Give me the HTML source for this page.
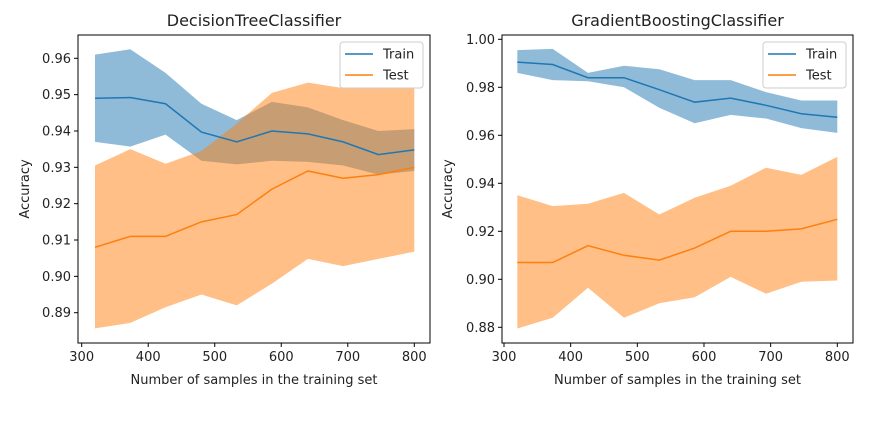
<!DOCTYPE html>
<html><head><meta charset="utf-8"><style>
body{margin:0;background:#fff;font-family:"DejaVu Sans","Liberation Sans",sans-serif}
svg text{font-family:"DejaVu Sans","Liberation Sans",sans-serif;fill:#222}
</style></head><body>
<svg id="chart" width="896" height="419" viewBox="0 0 896 419" xmlns="http://www.w3.org/2000/svg"></svg>
<script>
const xs = [320,373,426,480,533,586,640,693,746,800];
const xTicks = [300,400,500,600,700,800];
const leftTrainMean = [0.949,0.9492,0.9475,0.9397,0.937,0.940,0.9392,0.937,0.9335,0.9348];
const leftTrainUp = [0.961,0.9625,0.956,0.9475,0.943,0.948,0.9465,0.943,0.940,0.9405];
const leftTrainLo = [0.937,0.9357,0.939,0.9318,0.9308,0.9318,0.9315,0.9305,0.928,0.929];
const leftTestMean = [0.908,0.911,0.911,0.915,0.917,0.924,0.929,0.927,0.928,0.930];
const leftTestUp = [0.9305,0.935,0.931,0.9345,0.942,0.9505,0.9533,0.9518,0.952,0.952];
const leftTestLo = [0.8857,0.8872,0.8915,0.895,0.892,0.898,0.9048,0.9028,0.9048,0.9068];
const leftYTicks = [0.89,0.90,0.91,0.92,0.93,0.94,0.95,0.96];
const rightTrainMean = [0.9905,0.9895,0.984,0.984,0.979,0.9738,0.9755,0.9725,0.969,0.9675];
const rightTrainUp = [0.9955,0.996,0.986,0.989,0.9875,0.983,0.983,0.978,0.9745,0.9745];
const rightTrainLo = [0.986,0.983,0.9825,0.980,0.9715,0.965,0.9685,0.967,0.963,0.961];
const rightTestMean = [0.907,0.907,0.914,0.910,0.908,0.913,0.920,0.920,0.921,0.925];
const rightTestUp = [0.935,0.9305,0.9315,0.936,0.927,0.934,0.939,0.9465,0.9435,0.951];
const rightTestLo = [0.8795,0.884,0.8965,0.884,0.890,0.8925,0.901,0.894,0.899,0.8995];
const rightYTicks = [0.88,0.90,0.92,0.94,0.96,0.98,1.00];

const svg = document.getElementById('chart');
const NS = 'http://www.w3.org/2000/svg';
function mk(tag, attrs, parent){const e=document.createElementNS(NS,tag);for(const k in attrs)e.setAttribute(k,attrs[k]);(parent||svg).appendChild(e);return e;}

function panel(cfg){
  const g = mk('g',{});
  
  
  const X = v => cfg.x0 + (v-300)*(cfg.x1-cfg.x0)/500;
  const Y = v => cfg.y0 + (v-cfg.v0)*(cfg.y1-cfg.y0)/(cfg.v1-cfg.v0);
  function band(up, lo, color, nm){
    let d = 'M'+xs.map((x,i)=>X(x)+','+Y(up[i])).join('L');
    d += 'L'+xs.map((x,i)=>X(x)+','+Y(lo[i])).reverse().join('L')+'Z';
    const p = mk('path',{d:d,fill:color,'fill-opacity':0.5,stroke:'none'},g);
    
    
  }
  function line(m, color, nm){
    const p = mk('polyline',{points:xs.map((x,i)=>X(x)+','+Y(m[i])).join(' '),fill:'none',stroke:color,'stroke-width':1.5},g);
    
    
  }
  band(cfg.trUp,cfg.trLo,'#1f77b4','train-band');
  band(cfg.teUp,cfg.teLo,'#ff7f0e','test-band');
  line(cfg.trM,'#1f77b4','train-line');
  line(cfg.teM,'#ff7f0e','test-line');
  const fr = mk('rect',{x:cfg.bx0,y:35,width:cfg.bx1-cfg.bx0,height:308,fill:'none',stroke:'#000','stroke-width':1},g);
  
  
  xTicks.forEach(t=>{
    mk('line',{x1:X(t),x2:X(t),y1:343,y2:347,stroke:'#000'},g);
    const tx = mk('text',{x:X(t),y:361,'text-anchor':'middle','font-size':13},g);
    tx.textContent = t;
    
    
  });
  cfg.yTicks.forEach(t=>{
    mk('line',{x1:cfg.bx0-4,x2:cfg.bx0,y1:Y(t),y2:Y(t),stroke:'#000'},g);
    const tx = mk('text',{x:cfg.bx0-7,y:Y(t)+4.5,'text-anchor':'end','font-size':13},g);
    tx.textContent = t.toFixed(2);
    
    
  });
  const ti = mk('text',{x:(cfg.bx0+cfg.bx1)/2,y:26,'text-anchor':'middle','font-size':16},g);
  ti.textContent = cfg.title;
  
  
  const xl = mk('text',{x:(cfg.bx0+cfg.bx1)/2,y:384,'text-anchor':'middle','font-size':13},g);
  xl.textContent = 'Number of samples in the training set';
  
  
  const yl = mk('text',{x:0,y:0,'text-anchor':'middle','font-size':13,transform:'translate('+cfg.ylx+',189) rotate(-90)'},g);
  yl.textContent = 'Accuracy';
  
  
  const lg = mk('g',{},g);
  
  
  mk('rect',{x:cfg.lx,y:42,width:83,height:46,rx:3,fill:'#fff','fill-opacity':0.8,stroke:'#ccc'},lg);
  [['Train','#1f77b4',0],['Test','#ff7f0e',1]].forEach(([n,c,i])=>{
    mk('line',{x1:cfg.lx+5,x2:cfg.lx+33,y1:54+i*21,y2:54+i*21,stroke:c,'stroke-width':1.5},lg);
    const tt = mk('text',{x:cfg.lx+43,y:58.5+i*21,'font-size':13},lg);
    tt.textContent = n;
    
    
  });
}
panel({name:'decision-tree-panel',title:'DecisionTreeClassifier',bx0:78,bx1:430,x0:81.7,x1:414.3,
  v0:0.96,y0:58.3,v1:0.89,y1:312.7,yTicks:leftYTicks,ylx:29,lx:340,
  trM:leftTrainMean,trUp:leftTrainUp,trLo:leftTrainLo,teM:leftTestMean,teUp:leftTestUp,teLo:leftTestLo});
panel({name:'gradient-boosting-panel',title:'GradientBoostingClassifier',bx0:502,bx1:853,x0:504,x1:837.3,
  v0:1.0,y0:39.3,v1:0.88,y1:327.3,yTicks:rightYTicks,ylx:452,lx:763,
  trM:rightTrainMean,trUp:rightTrainUp,trLo:rightTrainLo,teM:rightTestMean,teUp:rightTestUp,teLo:rightTestLo});
</script>
</body></html>
